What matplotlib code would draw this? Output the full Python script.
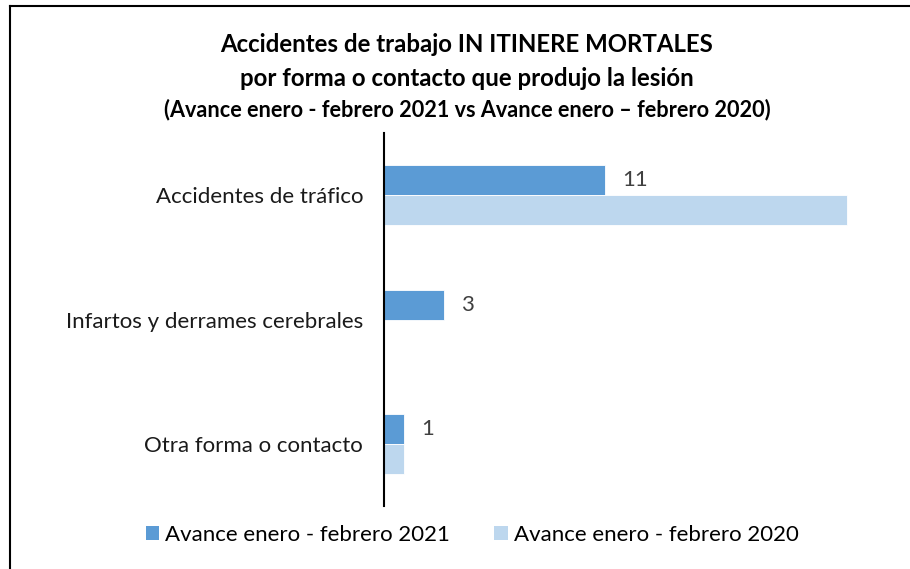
import matplotlib
matplotlib.use("Agg")
import matplotlib.pyplot as plt
from matplotlib.patches import Patch
from matplotlib.lines import Line2D

categories = ["Accidentes de tráfico", "Infartos y derrames cerebrales", "Otra forma o contacto"]
series_2021 = [11, 3, 1]
series_2020 = [23, 0, 1]
labels_2021 = ["11", "3", "1"]
series_names = ["Avance enero - febrero 2021", "Avance enero - febrero 2020"]
title_lines = ["Accidentes de trabajo IN ITINERE MORTALES",
               "por forma o contacto que produjo la lesión",
               "(Avance enero - febrero 2021 vs Avance enero – febrero 2020)"]

c2021 = "#5B9BD5"
c2020 = "#BDD7EE"
FONT = "Lato"
plt.rcParams['font.family'] = [FONT, 'DejaVu Sans']

fig = plt.figure(figsize=(9.10, 5.69), dpi=100)
ax = fig.add_axes([384/910, 1-506/569, 503/910, (506-133)/569])

pos = list(range(len(categories)))
h = 0.241
ax.barh([p - h/2 for p in pos], series_2021, height=h, color=c2021, edgecolor="white", linewidth=0.6)
ax.barh([p + h/2 for p in pos], series_2020, height=h, color=c2020, edgecolor="white", linewidth=0.6)
ax.set_xlim(0, 25)
ax.set_ylim(len(categories) - 0.5, -0.5)
ax.set_yticks(pos)
ax.set_yticklabels(categories, fontsize=16, color="#1a1a1a")
ax.tick_params(axis="y", length=0, pad=15)
ax.set_xticks([])
for s in ["top", "right", "bottom"]:
    ax.spines[s].set_visible(False)
ax.spines["left"].set_linewidth(1.5)
ax.spines["left"].set_color("black")

for p, v, lab in zip(pos, series_2021, labels_2021):
    ax.annotate(lab, (v, p - h/2), xytext=(17, 0), textcoords="offset pixels",
                ha="left", va="center", fontsize=16, color="#404040")

cx = 467/910
fig.text(cx, 1-45/569, title_lines[0], ha="center", va="center", fontsize=17.3, fontweight="bold")
fig.text(cx, 1-78/569, title_lines[1], ha="center", va="center", fontsize=17.3, fontweight="bold")
fig.text(cx, 1-110/569, title_lines[2], ha="center", va="center", fontsize=15.6, fontweight="bold")

handles = [Patch(facecolor=c2021), Patch(facecolor=c2020)]
fig.legend(handles, series_names, loc="center", bbox_to_anchor=(472/910, 1-535/569),
           ncol=2, frameon=False, fontsize=16, handlelength=0.6, handleheight=0.6,
           handletextpad=0.27, columnspacing=2.0, borderpad=0, borderaxespad=0)

# outer border (left and top)
fig.add_artist(Line2D([10/910, 10/910], [0, 1-6/569], color="black", linewidth=1.5, transform=fig.transFigure))
fig.add_artist(Line2D([10/910, 1], [1-6/569, 1-6/569], color="black", linewidth=1.5, transform=fig.transFigure))

fig.savefig("out.png", dpi=100)
